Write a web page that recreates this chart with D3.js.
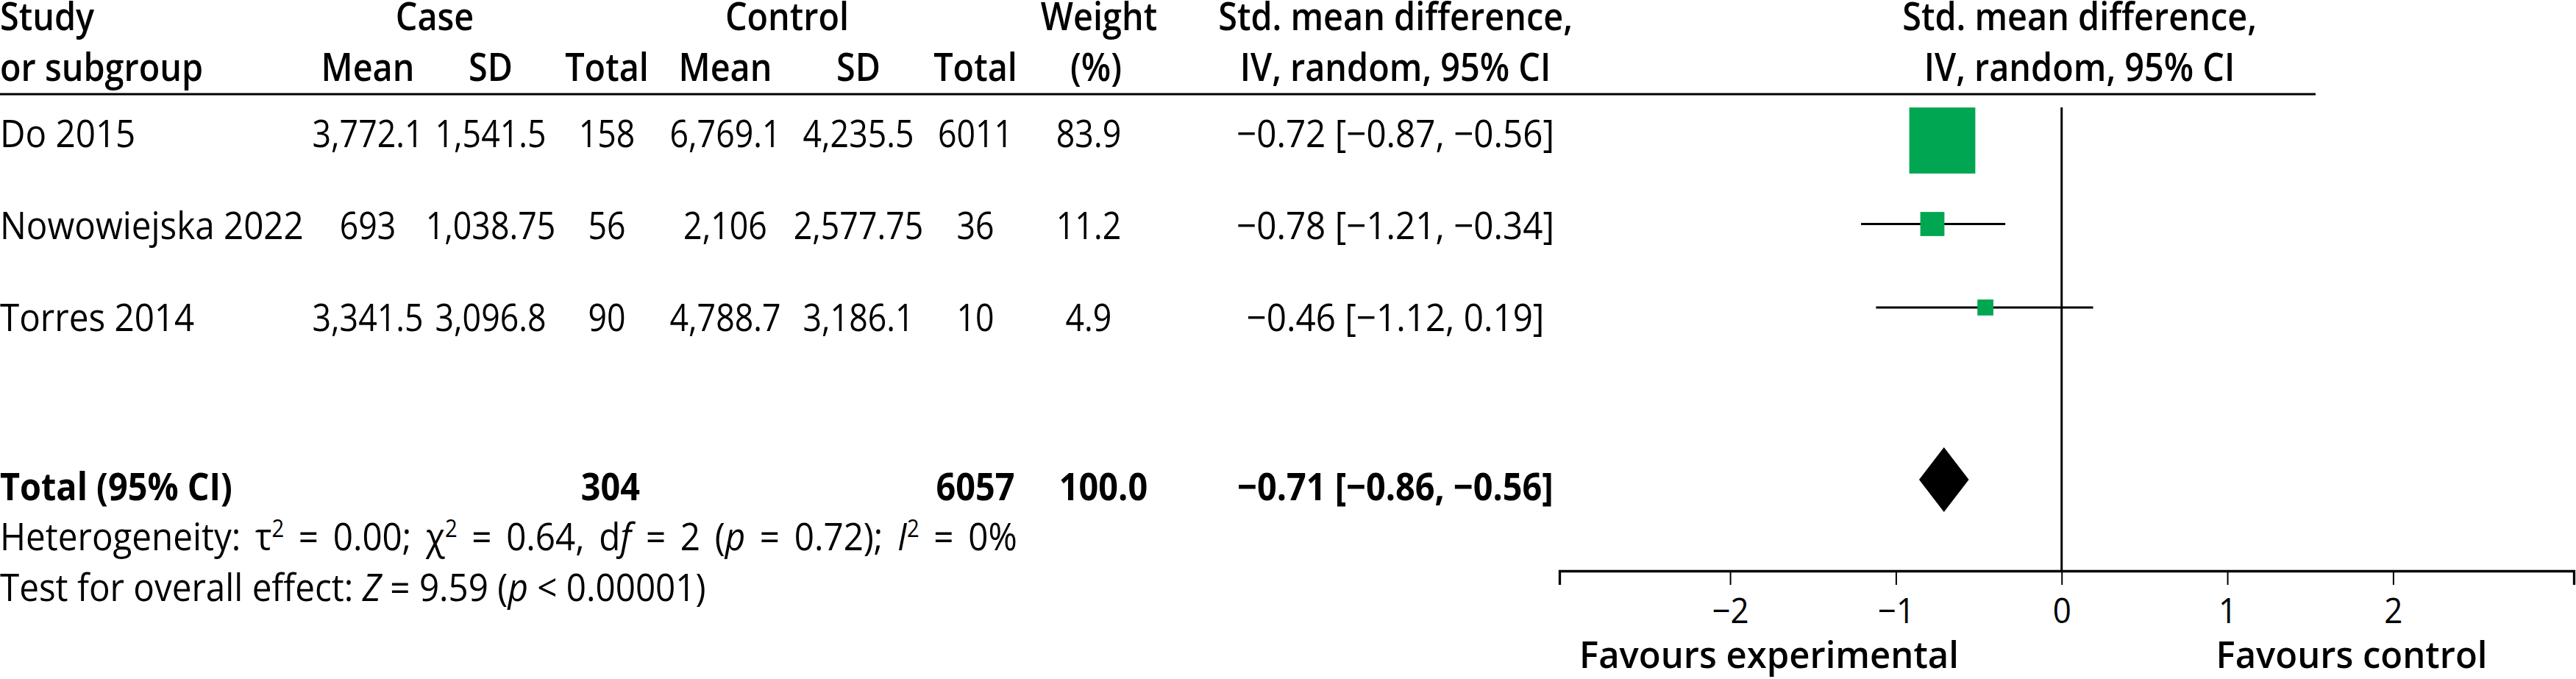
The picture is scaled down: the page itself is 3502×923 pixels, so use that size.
<!DOCTYPE html>
<html>
<head>
<meta charset="utf-8">
<script src="https://cdn.jsdelivr.net/npm/d3@7"></script>
<style>
body { margin: 0; background: #fff; }
svg text { font-family: "Open Sans", "Noto Sans", sans-serif; fill: #000; }
</style>
</head>
<body>
<svg id="chart" width="3502" height="923"></svg>
<script>
// study level data
var studies  = ['Do 2015', 'Nowowiejska 2022', 'Torres 2014'];
var caseMean = ['3,772.1', '693', '3,341.5'];
var caseSD   = ['1,541.5', '1,038.75', '3,096.8'];
var caseN    = [158, 56, 90];
var ctrlMean = ['6,769.1', '2,106', '4,788.7'];
var ctrlSD   = ['4,235.5', '2,577.75', '3,186.1'];
var ctrlN    = [6011, 36, 10];
var weights  = [83.9, 11.2, 4.9];
var smd      = [-0.72, -0.78, -0.46];
var lower    = [-0.87, -1.21, -1.12];
var upper    = [-0.56, -0.34, 0.19];

// pooled result
var totalN      = [304, 6057];
var totalWeight = 100.0;
var pooled      = [-0.71, -0.86, -0.56];   // estimate, lower, upper

var tickValues = [-2, -1, 0, 1, 2];

var SX = 0.915;   // horizontal squeeze of regular text
var SXB = 0.9;    // and of bold text
var SXN = 0.86;   // numbers are narrower
var svg = d3.select('#chart');
var f2 = d3.format('.2f');
var f1 = d3.format('.1f');

var addText = function(x, y, parts, opt) {
    opt = opt || {};
    var sx = opt.sx || (opt.weight ? SXB : SX);
    var t = svg.append('text')
        .attr('transform', 'translate(' + x + ',' + y + ') scale(' + sx + ',1)')
        .attr('text-anchor', opt.anchor || 'start')
        .style('font-size', (opt.size || 52) + 'px')
        .style('font-weight', opt.weight || 400);
    if (opt.wordSpacing) t.style('word-spacing', opt.wordSpacing + 'px');
    var back = 0;
    parts.forEach(function(p) {
        var s;
        if (typeof p === 'string') {
            s = t.append('tspan').text(p);
        } else if (p.sup) {
            s = t.append('tspan').attr('dy', -18 + back).style('font-size', '32px').text(p.sup);
            back = 18;
            return;
        } else if (p.i) {
            s = t.append('tspan').style('font-style', 'italic').text(p.i);
        }
        if (back) { s.attr('dy', back); back = 0; }
    });
    return t;
};

// header
var H = {weight: 600};
addText(0, 41, ['Study'], H);
addText(0, 110, ['or subgroup'], H);
addText(591, 41, ['Case'], {anchor: 'middle', weight: 600});
addText(1070, 41, ['Control'], {anchor: 'middle', weight: 600});
addText(1494, 41, ['Weight'], {anchor: 'middle', weight: 600});
addText(1490, 110, ['(%)'], {anchor: 'middle', weight: 600});
[1897, 2827].forEach(function(cx) {
    addText(cx, 41, ['Std. mean difference,'], {anchor: 'middle', weight: 600});
    addText(cx, 110, ['IV, random, 95% CI'], {anchor: 'middle', weight: 600});
});
var subHeads = [['Mean', 500], ['SD', 667], ['Total', 825], ['Mean', 986], ['SD', 1167], ['Total', 1326]];
subHeads.forEach(function(h) {
    addText(h[1], 110, [h[0]], {anchor: 'middle', weight: 600});
});

svg.append('line')
    .attr('x1', 0).attr('x2', 3148)
    .attr('y1', 128).attr('y2', 128)
    .attr('stroke', '#000').attr('stroke-width', 3);

// table body
var rowY = d3.scaleLinear().domain([0, 1]).range([200, 325]);
var effectText = function(e, l, u) {
    return f2(e) + ' [' + f2(l) + ', ' + f2(u) + ']';
};
var columns = [
    {vals: caseMean, x: 500},
    {vals: caseSD, x: 667},
    {vals: caseN, x: 825},
    {vals: ctrlMean, x: 986},
    {vals: ctrlSD, x: 1167},
    {vals: ctrlN, x: 1326},
    {vals: weights.map(f1), x: 1480},
    {vals: smd.map(function(d, i) { return effectText(d, lower[i], upper[i]); }), x: 1897, sx: SX}
];

studies.forEach(function(s, i) {
    addText(0, rowY(i), [s]);
    columns.forEach(function(c) {
        addText(c.x, rowY(i), [String(c.vals[i])], {anchor: 'middle', sx: c.sx || SXN});
    });
});

// total row
var B = {anchor: 'middle', weight: 700};
addText(0, 680, ['Total (95% CI)'], {weight: 700});
addText(830, 680, [String(totalN[0])], B);
addText(1326, 680, [String(totalN[1])], B);
addText(1500, 680, [f1(totalWeight)], B);
addText(1897, 680, [effectText(pooled[0], pooled[1], pooled[2])], B);

addText(0, 748, ['Heterogeneity: \u03c4', {sup: '2'}, ' = 0.00; \u03c7', {sup: '2'},
    ' = 0.64, d', {i: 'f'}, ' = 2 (', {i: 'p'}, ' = 0.72); ', {i: 'I'}, {sup: '2'}, ' = 0%'],
    {wordSpacing: 8});
addText(0, 817, ['Test for overall effect: ', {i: 'Z'}, ' = 9.59 (', {i: 'p'}, ' < 0.00001)']);

// forest plot
var x = d3.scaleLinear().domain([-3.03, 3.09]).range([2120, 3499]);
var markY = d3.scaleLinear().domain([0, 2]).range([191, 418]);
var size = d3.scaleSqrt().domain([0, 100]).range([0, 98]);
var axisY = 776;

svg.append('line')
    .attr('x1', x(0)).attr('x2', x(0))
    .attr('y1', 146).attr('y2', axisY)
    .attr('stroke', '#000').attr('stroke-width', 3);

var rows = svg.selectAll('.study')
    .data(smd)
    .enter()
    .append('g')
    .attr('class', 'study');

rows.append('line')
    .attr('x1', function(d, i) { return x(lower[i]); })
    .attr('x2', function(d, i) { return x(upper[i]); })
    .attr('y1', function(d, i) { return markY(i); })
    .attr('y2', function(d, i) { return markY(i); })
    .attr('stroke', '#000')
    .attr('stroke-width', 3);

rows.append('rect')
    .attr('x', function(d, i) { return x(d) - size(weights[i]) / 2; })
    .attr('y', function(d, i) { return markY(i) - size(weights[i]) / 2; })
    .attr('width', function(d, i) { return size(weights[i]); })
    .attr('height', function(d, i) { return size(weights[i]); })
    .attr('fill', '#00a651');

var dy = 652, dh = 44;
svg.append('path')
    .attr('d', 'M' + x(pooled[1]) + ',' + dy +
               'L' + x(pooled[0]) + ',' + (dy - dh) +
               'L' + x(pooled[2]) + ',' + dy +
               'L' + x(pooled[0]) + ',' + (dy + dh) + 'Z')
    .attr('fill', '#000');

var axis = svg.append('g')
    .attr('transform', 'translate(0,' + axisY + ')')
    .call(d3.axisBottom(x).tickValues(tickValues).tickFormat(d3.format('d'))
        .tickSize(19).tickSizeOuter(19));
axis.select('.domain').attr('stroke-width', 3.3);
axis.selectAll('.tick line').attr('stroke-width', 2);
axis.selectAll('.tick text')
    .attr('y', 71).attr('dy', 0)
    .attr('transform', 'scale(' + SX + ',1)')
    .style('font-size', '48px')
    .style('font-family', '"Open Sans", "Noto Sans", sans-serif');

addText(2405, 908, ['Favours experimental'], {anchor: 'middle', size: 50, weight: 600, sx: 0.98});
addText(3197, 908, ['Favours control'], {anchor: 'middle', size: 50, weight: 600, sx: 0.98});
</script>
</body>
</html>
